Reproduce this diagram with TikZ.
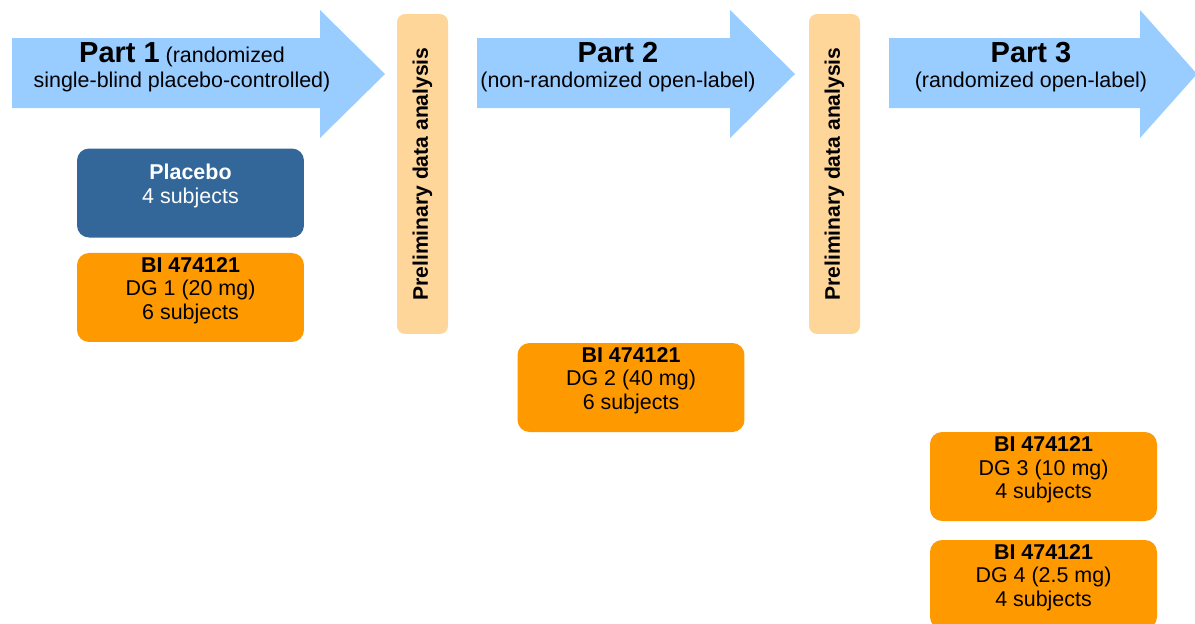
\documentclass[tikz,border=0pt]{standalone}
\usepackage{fontspec}
\setmainfont{Liberation Sans}
\usetikzlibrary{positioning}
\definecolor{arrowblue}{HTML}{99CCFF}
\definecolor{placeboblue}{HTML}{336699}
\definecolor{doseorange}{HTML}{FF9900}
\definecolor{prelimpeach}{HTML}{FFD699}

\begin{document}
\begin{tikzpicture}[x=0.02cm, y=-0.02cm, on grid,
	phase/.style={fill=arrowblue, draw=none},
	phasetext/.style={align=center, font=\fontsize{12.2}{14.2}\selectfont},
	grp/.style={rounded corners=0.24cm, minimum width=4.54cm, minimum height=1.78cm,
		inner sep=0pt, align=center, text depth=0.36cm,
		font=\fontsize{12.2}{13.6}\selectfont},
	placebo/.style={grp, fill=placeboblue, text=white},
	dose/.style={grp, fill=doseorange},
	prelim/.style={rounded corners=0.16cm, fill=prelimpeach, minimum width=6.4cm,
		minimum height=1.02cm, rotate=90, font=\fontsize{12}{12}\selectfont\bfseries}]
	\useasboundingbox (0,0) rectangle (1195,623);
	
	% the three parts
	\fill[phase] (12,38) -- (320,38) -- (320,10) -- (385,74) -- (320,138) -- (320,108) -- (12,108) -- cycle;
	\fill[phase] (477,38) -- (730,38) -- (730,10) -- (795,74) -- (730,138) -- (730,108) -- (477,108) -- cycle;
	\fill[phase] (889,38) -- (1140,38) -- (1140,10) -- (1197,74) -- (1140,138) -- (1140,108) -- (889,108) -- cycle;
	
	\node[phasetext] (part1) at (182,67) {{\fontsize{16.5}{14.2}\selectfont\bfseries Part 1} (randomized\\single-blind placebo-controlled)};
	\node[phasetext] (part2) at (618,67) {{\fontsize{16.5}{14.2}\selectfont\bfseries Part 2}\\(non-randomized open-label)};
	\node[phasetext] (part3) at (1031,67) {{\fontsize{16.5}{14.2}\selectfont\bfseries Part 3}\\(randomized open-label)};
	
	\node[prelim] (pre1) at (422.5,174) {Preliminary data analysis};
	\node[prelim] (pre2) at (834.5,174) {Preliminary data analysis};
	
	% treatment groups
	\node[placebo] (pbo) at (190.5,193) {\textbf{Placebo}\\4 subjects};
	\node[dose] (dg1) [below=2.09cm of pbo] {\textbf{BI 474121}\\DG 1 (20 mg)\\6 subjects};
	\node[dose] (dg2) at (631,387.5) {\textbf{BI 474121}\\DG 2 (40 mg)\\6 subjects};
	\node[dose] (dg3) at (1043.5,476.5) {\textbf{BI 474121}\\DG 3 (10 mg)\\4 subjects};
	\node[dose] (dg4) [below=2.16cm of dg3] {\textbf{BI 474121}\\DG 4 (2.5 mg)\\4 subjects};
\end{tikzpicture}
\end{document}
